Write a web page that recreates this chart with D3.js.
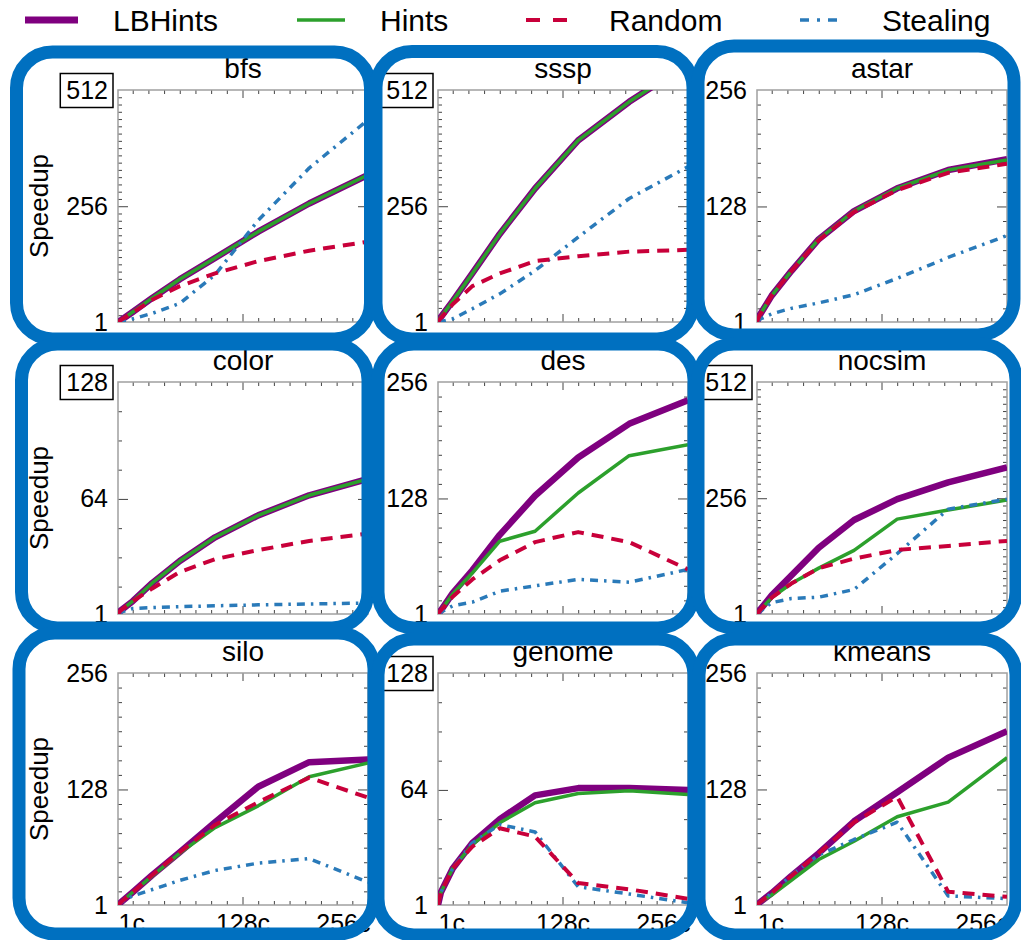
<!DOCTYPE html>
<html>
<head>
    <title>Speedup by benchmark</title>
    <script src="https://d3js.org/d3.v7.min.js"></script>
    <style>
        body { margin: 0; background: white; }
        text { font-family: "Liberation Sans", Arial, Helvetica, sans-serif; fill: black; }
    </style>
</head>
<body>
<script>
    // core counts on the x axis
    const cores = [1, 4, 16, 36, 64, 100, 144, 196, 256];
    const benchmarks = ["bfs", "sssp", "astar", "color", "des", "nocsim", "silo", "genome", "kmeans"];
    const yTop = [512, 512, 256, 128, 256, 512, 256, 128, 256];
    const topBoxed = [true, true, false, true, false, true, false, true, false];
    const xTickLabels = ["1c", "128c", "256c"];
    const seriesNames = ["LBHints", "Hints", "Random", "Stealing"];

    // speedups, one row per benchmark (same order as benchmarks)
    const lbhints = [
        [1, 5, 23, 54, 95, 142, 200, 262, 325],
        [1, 12, 47, 108, 195, 295, 401, 486, 570],
        [1, 9, 30, 57, 92, 123, 148, 168, 180],
        [1, 3, 8, 18, 30, 43, 55, 66, 75],
        [1, 5, 24, 49, 88, 131, 173, 210, 236],
        [1, 10, 42, 86, 147, 208, 254, 291, 324],
        [1, 4, 15, 34, 59, 92, 131, 158, 161],
        [1, 8, 21, 35, 48, 61, 65, 65, 64],
        [1, 4, 14, 33, 58, 93, 125, 163, 192]
    ];
    const hints = [
        [1, 5, 23, 54, 95, 142, 200, 262, 325],
        [1, 12, 47, 108, 195, 295, 401, 486, 570],
        [1, 9, 30, 57, 92, 123, 148, 168, 179],
        [1, 3, 8, 18, 30, 43, 55, 66, 75],
        [1, 5, 23, 46, 81, 92, 134, 175, 187],
        [1, 9, 37, 68, 102, 141, 210, 230, 252],
        [1, 4, 15, 33, 58, 86, 110, 142, 157],
        [1, 8, 21, 34, 46, 57, 62, 63.5, 61.5],
        [1, 4, 12, 28, 51, 71, 98, 114, 163]
    ];
    const random = [
        [1, 5, 22, 50, 80, 108, 135, 158, 178],
        [1, 10, 40, 80, 108, 135, 146, 156, 160],
        [1, 9, 30, 57, 91, 122, 146, 165, 175],
        [1, 3, 8, 15, 24, 31, 36, 41, 45],
        [1, 5, 20, 39, 60, 80, 91, 80, 50],
        [1, 9, 37, 68, 102, 123, 142, 151, 162],
        [1, 4, 15, 34, 59, 89, 114, 141, 119],
        [1, 8, 21, 33, 43, 38.5, 13, 9.6, 4.4],
        [1, 4, 14, 33, 58, 92, 120, 15.5, 10]
    ];
    const stealing = [
        [1, 2, 8, 20, 42, 105, 225, 340, 446],
        [1, 2, 8, 30, 63, 114, 188, 273, 343],
        [1, 4, 10, 16, 22, 31, 49, 72, 96],
        [1, 2, 4, 4.5, 5, 5.5, 6, 6.5, 7],
        [1, 3, 10, 14, 26, 32, 39, 36, 50],
        [1, 6, 26, 35, 38, 55, 134, 232, 254],
        [1, 4, 11, 18, 28, 39, 47, 52, 26],
        [1, 8, 21, 35, 45, 41, 11, 7, 2.2],
        [1, 4, 14, 34, 56, 73, 92, 11, 8]
    ];

    const width = 1021, height = 940;
    const colLeft = [118, 438, 757], rowTop = [90, 382, 673];
    const pw = 250, ph = 232;
    const boxBlue = "#0070c0";

    // drawing order: bottom first
    const styles = [
        {data: lbhints, color: "#7f007f", w: 6.5, dash: null},
        {data: hints, color: "#2ca02c", w: 3.5, dash: null},
        {data: stealing, color: "#2a7ab9", w: 3.5, dash: "8,6,2.5,6"},
        {data: random, color: "#c8003a", w: 4, dash: "12,8"}
    ];
    const legendStyles = [styles[0], styles[1], styles[3], styles[2]];

    // rounded frames around each panel (stroke centre lines)
    const frames = [
        [16.5, 52, 370.5, 339], [376, 51.5, 693, 339], [698, 46, 1014, 335],
        [21.5, 344, 368, 628], [378, 344, 694, 628], [698, 344, 1016, 628],
        [19, 633, 374, 934], [378, 639, 694, 935], [699, 639, 1016, 935]
    ];

    var svg = d3.select("body").append("svg")
        .attr("width", width)
        .attr("height", height);

    svg.append("rect").attr("width", width).attr("height", height).attr("fill", "white");

    // legend
    const legendLine = [[25, 78], [297, 345], [526, 567], [800, 840]];
    const legendText = [113, 380, 609, 882];
    seriesNames.forEach((name, i) => {
        const s = legendStyles[i];
        svg.append("line")
            .attr("x1", legendLine[i][0]).attr("x2", legendLine[i][1])
            .attr("y1", 20).attr("y2", 20)
            .attr("stroke", s.color)
            .attr("stroke-width", i == 0 ? 7 : s.w)
            .attr("stroke-dasharray", i == 2 ? "14,13" : (i == 3 ? "9,8,3,8" : null));
        svg.append("text")
            .attr("x", legendText[i]).attr("y", 31)
            .style("font-size", "30px")
            .text(name);
    });

    function tickAxis(g, axisFn, scale, vals, size, transform) {
        const a = g.append("g")
            .attr("transform", transform)
            .call(axisFn(scale).tickValues(vals).tickSize(size).tickFormat(""));
        a.select(".domain").remove();
        a.selectAll("line").attr("stroke", "#444").attr("stroke-width", 1);
    }

    benchmarks.forEach((name, i) => {
        const col = i % 3, row = Math.floor(i / 3);
        const px = colLeft[col], py = rowTop[row];
        const top = yTop[i];

        const x = d3.scaleLinear().domain([1, 256]).range([px, px + pw]);
        const y = d3.scaleLinear().domain([1, top]).range([py + ph, py]);

        const g = svg.append("g");

        g.append("clipPath").attr("id", "clip" + i)
            .append("rect").attr("x", px).attr("y", py).attr("width", pw).attr("height", ph);

        const xMinor = d3.range(16, 256, 16).filter(v => v != 128);
        const yMinor = d3.range(16, top, 16).filter(v => v != top / 2);

        tickAxis(g, d3.axisLeft, y, yMinor, -4, "translate(" + px + ",0)");
        tickAxis(g, d3.axisRight, y, yMinor, -4, "translate(" + (px + pw) + ",0)");
        tickAxis(g, d3.axisBottom, x, xMinor, -4, "translate(0," + (py + ph) + ")");
        tickAxis(g, d3.axisTop, x, xMinor, -4, "translate(0," + py + ")");
        tickAxis(g, d3.axisLeft, y, [top / 2], -10, "translate(" + px + ",0)");
        tickAxis(g, d3.axisRight, y, [top / 2], -10, "translate(" + (px + pw) + ",0)");
        tickAxis(g, d3.axisBottom, x, [128], -8, "translate(0," + (py + ph) + ")");
        tickAxis(g, d3.axisTop, x, [128], -8, "translate(0," + py + ")");

        g.append("rect")
            .attr("x", px).attr("y", py).attr("width", pw).attr("height", ph)
            .attr("fill", "none").attr("stroke", "#a0a0a0").attr("stroke-width", 1.5);

        const line = d3.line()
            .x((d, j) => x(cores[j]))
            .y(d => y(d));

        styles.forEach(s => {
            g.append("path")
                .attr("clip-path", "url(#clip" + i + ")")
                .attr("d", line(s.data[i]))
                .attr("fill", "none")
                .attr("stroke", s.color)
                .attr("stroke-width", s.w)
                .attr("stroke-linejoin", "round")
                .attr("stroke-dasharray", s.dash);
        });

        // y labels
        const yAx = g.append("g")
            .attr("transform", "translate(" + px + ",0)")
            .call(d3.axisLeft(y).tickValues([1, top / 2, top]).tickSize(0).tickPadding(10).tickFormat(d3.format("d")));
        yAx.select(".domain").remove();
        yAx.selectAll("text")
            .style("font-size", "25px")
            .style("font-family", '"Liberation Sans", Arial, sans-serif');

        if (topBoxed[i]) {
            const t = yAx.selectAll(".tick").filter(d => d == top).select("text");
            const bb = t.node().getBBox();
            const tg = t.node().parentNode;
            d3.select(tg).insert("rect", "text")
                .attr("x", bb.x - 6).attr("y", -17)
                .attr("width", bb.width + 11).attr("height", 34)
                .attr("fill", "white").attr("stroke", "black").attr("stroke-width", 1.5);
        }

        // x labels, bottom row only
        if (row == 2) {
            const xAx = g.append("g")
                .attr("transform", "translate(0," + (py + ph) + ")")
                .call(d3.axisBottom(x).tickValues([1, 128, 256]).tickSize(0).tickPadding(9)
                    .tickFormat((d, j) => xTickLabels[j]));
            xAx.select(".domain").remove();
            xAx.selectAll("text")
                .style("font-size", "25px")
                .style("font-family", '"Liberation Sans", Arial, sans-serif')
                .attr("text-anchor", (d, j) => j == 0 ? "start" : (j == 2 ? "end" : "middle"))
                .attr("x", (d, j) => j == 2 ? 2 : 0);
        }

        g.append("text")
            .attr("x", px + pw / 2).attr("y", py - 12)
            .attr("text-anchor", "middle")
            .style("font-size", "28px")
            .text(name);

        if (col == 0) {
            g.append("text")
                .attr("transform", "translate(48," + (py + ph / 2) + ") rotate(-90)")
                .attr("text-anchor", "middle")
                .style("font-size", "26px")
                .text("Speedup");
        }
    });

    // blue rounded frames go on top
    frames.forEach(f => {
        svg.append("rect")
            .attr("x", f[0]).attr("y", f[1])
            .attr("width", f[2] - f[0]).attr("height", f[3] - f[1])
            .attr("rx", 36).attr("ry", 36)
            .attr("fill", "none")
            .attr("stroke", boxBlue)
            .attr("stroke-width", 13);
    });
</script>
</body>
</html>
